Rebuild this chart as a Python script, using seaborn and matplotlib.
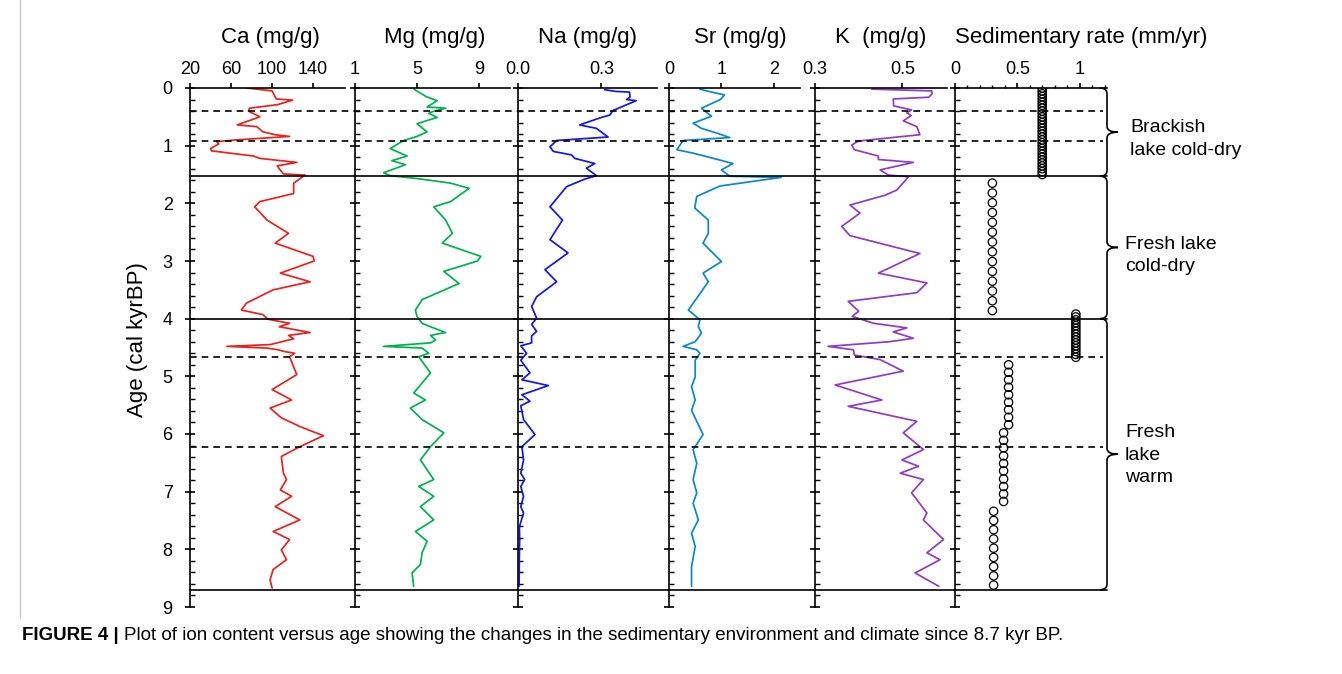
import numpy as np
import matplotlib
matplotlib.use("Agg")
import matplotlib.pyplot as plt
import seaborn as sns
from matplotlib.lines import Line2D
from matplotlib.path import Path
from matplotlib.patches import PathPatch
from matplotlib import transforms
from matplotlib import font_manager

# ---------------- data ----------------
ca_age = [0.0, 0.05, 0.19, 0.21, 0.29, 0.35, 0.40, 0.50, 0.64, 0.67,
          0.76, 0.81, 0.84, 0.90, 0.93, 0.97, 1.05, 1.09, 1.18, 1.22,
          1.29, 1.35, 1.40, 1.49, 1.51, 1.65, 1.83, 1.97, 2.06, 2.29,
          2.52, 2.69, 2.92, 3.0, 3.21, 3.36, 3.50, 3.73, 3.85, 3.93,
          4.01, 4.08, 4.14, 4.24, 4.29, 4.35, 4.45, 4.48, 4.51, 4.54,
          4.57, 4.60, 4.66, 4.97, 5.23, 5.41, 5.55, 5.72, 5.87, 6.03,
          6.22, 6.39, 6.68, 6.79, 6.97, 7.08, 7.26, 7.49, 7.69, 7.83,
          8.01, 8.18, 8.35, 8.53, 8.67]
ca_val = [75, 100, 104, 120, 105, 78, 77, 88, 66, 85,
          91, 103, 117, 65, 46, 48, 40, 41, 82, 88,
          124, 105, 107, 111, 132, 121, 121, 88, 83, 95,
          116, 103, 140, 141, 108, 137, 101, 75, 70, 91,
          96, 117, 107, 137, 116, 121, 98, 56, 95, 106,
          112, 122, 117, 124, 100, 119, 98, 109, 127, 150,
          127, 109, 111, 114, 108, 119, 103, 127, 101, 117,
          109, 114, 101, 98, 100]

mg_age = [0.02, 0.15, 0.22, 0.33, 0.35, 0.41, 0.44, 0.51, 0.62, 0.76,
          0.84, 0.91, 1.05, 1.18, 1.26, 1.33, 1.47, 1.52, 1.57, 1.65,
          1.74, 1.97, 2.06, 2.29, 2.52, 2.69, 2.92, 3.0, 3.18, 3.39,
          3.67, 3.85, 3.96, 4.08, 4.14, 4.24, 4.29, 4.37, 4.42, 4.48,
          4.51, 4.60, 4.66, 4.94, 5.29, 5.41, 5.55, 5.75, 5.98, 6.22,
          6.45, 6.79, 6.91, 7.08, 7.26, 7.49, 7.69, 7.86, 8.06, 8.26,
          8.41, 8.64]
mg_val = [4.8, 5.6, 6.3, 5.65, 6.85, 6.0, 5.76, 6.3, 5.0, 5.65,
          5.0, 4.14, 3.27, 4.36, 3.38, 4.25, 2.84, 3.27, 5.0, 7.17,
          8.36, 7.17, 6.08, 6.85, 7.28, 6.63, 9.12, 8.9, 6.73, 7.71,
          5.33, 4.9, 5.0, 5.33, 5.87, 6.84, 5.87, 6.2, 5.87, 2.84,
          5.33, 5.76, 5.11, 5.87, 4.79, 5.55, 4.57, 5.33, 6.73, 5.87,
          5.22, 6.08, 5.11, 6.08, 5.22, 6.08, 4.9, 5.65, 5.33, 5.22,
          4.68, 4.79]

na_age = [0.03, 0.06, 0.07, 0.16, 0.20, 0.22, 0.39, 0.47, 0.51, 0.64,
          0.70, 0.85, 0.91, 1.02, 1.10, 1.16, 1.22, 1.31, 1.39, 1.52,
          1.58, 1.71, 2.06, 2.29, 2.63, 2.86, 3.15, 3.36, 3.62, 3.79,
          3.99, 4.10, 4.22, 4.30, 4.42, 4.47, 4.60, 4.72, 4.94, 5.06,
          5.16, 5.32, 5.43, 5.51, 5.75, 6.01, 6.22, 6.45, 6.68, 6.79,
          6.91, 7.08, 7.26, 7.37, 7.61, 7.84, 8.07, 8.64]
na_val = [0.312, 0.354, 0.401, 0.403, 0.39, 0.425, 0.342, 0.33, 0.30, 0.222,
          0.282, 0.324, 0.139, 0.115, 0.127, 0.192, 0.204, 0.276, 0.246, 0.282,
          0.24, 0.175, 0.115, 0.16, 0.115, 0.18, 0.097, 0.139, 0.067, 0.049,
          0.067, 0.049, 0.067, 0.049, 0.049, 0.01, 0.031, 0.01, 0.043, 0.014,
          0.109, 0.014, 0.043, 0.01, 0.02, 0.061, 0.014, 0.02, 0.01, 0.024,
          0.01, 0.02, 0.01, 0.02, 0.005, 0.006, 0.005, 0.004]

sr_age = [0.02, 0.07, 0.12, 0.20, 0.35, 0.49, 0.61, 0.70, 0.79, 0.86,
          0.91, 1.07, 1.13, 1.19, 1.31, 1.42, 1.53, 1.55, 1.70, 1.88,
          2.08, 2.29, 2.52, 2.69, 3.01, 3.21, 3.36, 3.85, 4.02, 4.14,
          4.25, 4.40, 4.48, 4.54, 4.60, 4.72, 5.01, 5.18, 5.41, 5.59,
          6.01, 6.27, 6.51, 6.79, 7.02, 7.20, 7.49, 7.72, 7.95, 8.30,
          8.64]
sr_val = [0.59, 0.81, 1.06, 0.98, 0.62, 0.81, 0.46, 0.62, 0.94, 1.16,
          0.27, 0.15, 0.46, 0.72, 1.22, 1.0, 1.16, 2.14, 0.97, 0.53,
          0.49, 0.75, 0.75, 0.65, 1.0, 0.65, 0.75, 0.37, 0.59, 0.56,
          0.62, 0.50, 0.27, 0.53, 0.59, 0.50, 0.50, 0.43, 0.50, 0.43,
          0.65, 0.46, 0.53, 0.46, 0.53, 0.46, 0.56, 0.43, 0.50, 0.43,
          0.43]

k_age = [0.02, 0.05, 0.10, 0.16, 0.19, 0.31, 0.38, 0.43, 0.48, 0.57,
         0.67, 0.81, 0.92, 0.99, 1.07, 1.18, 1.24, 1.29, 1.42, 1.51,
         1.54, 1.77, 1.86, 2.03, 2.17, 2.40, 2.56, 2.87, 3.21, 3.38,
         3.55, 3.70, 3.87, 3.96, 4.08, 4.16, 4.23, 4.34, 4.40, 4.48,
         4.54, 4.63, 4.71, 4.91, 5.15, 5.41, 5.52, 5.78, 5.98, 6.27,
         6.45, 6.56, 6.68, 6.79, 7.02, 7.37, 7.49, 7.83, 8.06, 8.18,
         8.41, 8.64]
k_val = [0.430, 0.567, 0.568, 0.56, 0.479, 0.48, 0.521, 0.51, 0.52, 0.502,
         0.533, 0.54, 0.399, 0.384, 0.39, 0.445, 0.445, 0.525, 0.449, 0.468,
         0.514, 0.487, 0.46, 0.38, 0.403, 0.361, 0.38, 0.54, 0.445, 0.556,
         0.533, 0.376, 0.40, 0.385, 0.434, 0.51, 0.479, 0.525, 0.47, 0.33,
         0.388, 0.39, 0.449, 0.502, 0.346, 0.453, 0.376, 0.533, 0.502, 0.548,
         0.499, 0.537, 0.495, 0.548, 0.521, 0.556, 0.548, 0.594, 0.556, 0.586,
         0.529, 0.583]

sed_age = [0.00, 0.05, 0.10, 0.15, 0.20, 0.25, 0.30, 0.35, 0.40, 0.45,
           0.50, 0.55, 0.60, 0.65, 0.70, 0.75, 0.80, 0.85, 0.90, 0.95,
           1.00, 1.05, 1.10, 1.15, 1.20, 1.25, 1.30, 1.35, 1.40, 1.45, 1.50,
           1.65, 1.82, 1.99, 2.16, 2.33, 2.50, 2.67, 2.84, 3.01, 3.18,
           3.35, 3.52, 3.69, 3.86,
           3.92, 3.97, 4.02, 4.07, 4.12, 4.17, 4.22, 4.27, 4.32, 4.37,
           4.42, 4.47, 4.52, 4.57, 4.62, 4.67,
           4.80, 4.93, 5.06, 5.19, 5.32, 5.45, 5.58, 5.71, 5.84,
           5.98, 6.11, 6.24, 6.38, 6.51, 6.64, 6.78, 6.91, 7.04, 7.17,
           7.34, 7.50, 7.66, 7.82, 7.98, 8.14, 8.30, 8.46, 8.62]
sed_rate = [0.70, 0.70, 0.70, 0.70, 0.70, 0.70, 0.70, 0.70, 0.70, 0.70,
            0.70, 0.70, 0.70, 0.70, 0.70, 0.70, 0.70, 0.70, 0.70, 0.70,
            0.70, 0.70, 0.70, 0.70, 0.70, 0.70, 0.70, 0.70, 0.70, 0.70, 0.70,
            0.30, 0.30, 0.30, 0.30, 0.30, 0.30, 0.30, 0.30, 0.30, 0.30,
            0.30, 0.30, 0.30, 0.30,
            0.97, 0.97, 0.97, 0.97, 0.97, 0.97, 0.97, 0.97, 0.97, 0.97,
            0.97, 0.97, 0.97, 0.97, 0.97, 0.97,
            0.43, 0.43, 0.43, 0.43, 0.43, 0.43, 0.43, 0.43, 0.43,
            0.39, 0.39, 0.39, 0.39, 0.39, 0.39, 0.39, 0.39, 0.39, 0.39,
            0.31, 0.31, 0.31, 0.31, 0.31, 0.31, 0.31, 0.31, 0.31]

solid_ages = [1.53, 4.0, 8.7]
dashed_ages = [0.40, 0.92, 4.67, 6.23]

zones = [("Brackish\nlake cold-dry", 0.0, 1.53),
         ("Fresh lake\ncold-dry", 1.53, 4.0),
         ("Fresh\nlake\nwarm", 4.0, 8.7)]

titles = ["Ca (mg/g)", "Mg (mg/g)", "Na (mg/g)", "Sr (mg/g)", "K  (mg/g)",
          "Sedimentary rate (mm/yr)"]
xlims = [(20, 171), (1, 11), (0, 0.5), (0, 2.5), (0.3, 0.602), (0, 1.22)]
xticks = [[20, 60, 100, 140], [1, 5, 9], [0.0, 0.3], [0, 1, 2], [0.3, 0.5], [0, 0.5, 1]]
xticklabels = [["20", "60", "100", "140"], ["1", "5", "9"], ["0.0", "0.3"],
               ["0", "1", "2"], ["0.3", "0.5"], ["0", "0.5", "1"]]
colors = ["#e8231f", "#00b050", "#1414f0", "#0a86cf", "#8e3cc4"]

# ---------------- style ----------------
sns.set_style("white")
plt.rcParams['font.family'] = ['Liberation Sans', 'DejaVu Sans']
plt.rcParams['text.color'] = 'black'
plt.rcParams['axes.labelcolor'] = 'black'
plt.rcParams['xtick.color'] = 'black'
plt.rcParams['ytick.color'] = 'black'

W, H = 1342, 674
fig = plt.figure(figsize=(W / 100, H / 100), dpi=100)


def fx(px):
    return px / W


def fy(py):
    return 1 - py / H


top_px, bot_px = 88, 607
panels = [(190, 345), (355, 510), (518, 657), (669, 800), (815, 947), (955, 1107)]
title_x = [270, 435, 588, 740, 881, 955]

axes = []
for i, (l, r) in enumerate(panels):
    ax = fig.add_axes([fx(l), fy(bot_px), (r - l) / W, (bot_px - top_px) / H])
    ax.set_facecolor('none')
    axes.append(ax)

series = [(ca_val, ca_age), (mg_val, mg_age), (na_val, na_age),
          (sr_val, sr_age), (k_val, k_age)]
for i, (v, a) in enumerate(series):
    sns.lineplot(x=v, y=a, ax=axes[i], orient='y', sort=False, estimator=None,
                 color=colors[i], lw=1.25, solid_joinstyle='round')

sns.scatterplot(x=sed_rate, y=sed_age, ax=axes[5], marker='o', s=36,
                facecolors='none', edgecolor='black', linewidth=0.9, zorder=3)

for i, ax in enumerate(axes):
    ax.set_ylim(9, 0)
    ax.set_xlim(*xlims[i])
    ax.set_yticks(range(10))
    ax.set_yticks(np.arange(0, 9.01, 0.2), minor=True)
    ax.set_xticks(xticks[i])
    ax.set_xticklabels(xticklabels[i])
    ax.xaxis.tick_top()
    for s in ['right', 'bottom']:
        ax.spines[s].set_visible(False)
    for s in ['left', 'top']:
        ax.spines[s].set_visible(True)
        ax.spines[s].set_color('black')
        ax.spines[s].set_linewidth(1.2)
    ax.tick_params(axis='y', which='major', direction='inout', length=7, width=1.2,
                   color='black', labelcolor='black', labelsize=13, left=True,
                   right=False, labelleft=(i == 0), pad=9)
    ax.tick_params(axis='y', which='minor', direction='in', length=3.5, width=1.0,
                   color='black', left=True, right=False)
    ax.tick_params(axis='x', which='major', direction='out', length=3.5, width=1.2,
                   color='black', labelcolor='black', top=True, bottom=False,
                   labeltop=True, labelbottom=False, labelsize=13, pad=4)
    ax.tick_params(axis='x', which='minor', top=False, bottom=False)
    ax.set_xlabel('')
    ax.set_ylabel('')
    ax.grid(False)
    ha = 'left' if i == 5 else 'center'
    tx = (title_x[i] - panels[i][0]) / (panels[i][1] - panels[i][0])
    ax.text(tx, 1 + 51 / (bot_px - top_px), titles[i], transform=ax.transAxes,
            ha=ha, va='center', fontsize=16, color='black')

axes[5].set_xticks(np.arange(0, 1.21, 0.1), minor=True)
axes[5].tick_params(axis='x', which='minor', direction='out', length=2.5, width=1.0,
                    color='black', top=True, bottom=False)

axes[0].set_ylabel("Age (cal kyrBP)", fontsize=16, color='black')
axes[0].yaxis.set_label_coords((148 - 190) / 155, (bot_px - 340) / (bot_px - top_px))

# horizontal boundary lines across all panels
blend = transforms.blended_transform_factory(fig.transFigure, axes[0].transData)
for a in solid_ages:
    fig.add_artist(Line2D([fx(190), fx(1107)], [a, a], transform=blend,
                          color='black', lw=1.2, zorder=1))
for a in dashed_ages:
    fig.add_artist(Line2D([fx(190), fx(1103)], [a, a], transform=blend,
                          color='black', lw=1.2, linestyle=(0, (4, 3)), zorder=1))

# braces and zone labels
sax = axes[5]
btr = transforms.blended_transform_factory(sax.transAxes, sax.transData)
xa, xb, xt, r = 0.954, 1.0, 1.072, 0.10
text_x = [1130, 1125, 1125]
text_dy = [0.12, 0.14, 0.02]
for j, (lab, y0, y1) in enumerate(zones):
    ym = (y0 + y1) / 2
    verts = [(xa, y0), (xb, y0), (xb, y0 + r), (xb, ym - r), (xb, ym), (xt, ym),
             (xb, ym), (xb, ym + r), (xb, y1 - r), (xb, y1), (xa, y1)]
    codes = [Path.MOVETO, Path.CURVE3, Path.CURVE3, Path.LINETO, Path.CURVE3,
             Path.CURVE3, Path.CURVE3, Path.CURVE3, Path.LINETO, Path.CURVE3,
             Path.CURVE3]
    sax.add_patch(PathPatch(Path(verts, codes), transform=btr, fill=False,
                            edgecolor='black', lw=1.2, clip_on=False))
    sax.text((text_x[j] - 955) / 152, ym + text_dy[j], lab, transform=btr, ha='left',
             va='center', fontsize=14, linespacing=1.42, color='black')

# frame line of the figure panel
fig.add_artist(Line2D([fx(20), fx(20)], [fy(0), fy(618)], color='#c8c8c8', lw=1.0))

# caption
names = {f.name for f in font_manager.fontManager.ttflist}
cap_family = ['Liberation Sans Narrow'] if 'Liberation Sans Narrow' in names else ['Liberation Sans']
fig.canvas.draw()
rend = fig.canvas.get_renderer()
cap_bold = "FIGURE 4 |"
cap_rest = ("Plot of ion content versus age showing the changes in the sedimentary "
            "environment and climate since 8.7 kyr BP.")
fs = 12
t1 = fig.text(fx(22), fy(636), cap_bold, fontsize=fs, fontweight='bold',
              va='center', ha='left', family=cap_family, color='black')
t2 = fig.text(fx(22), fy(636), cap_rest, fontsize=fs, va='center', ha='left',
              family=cap_family, color='black')
w_total = t1.get_window_extent(rend).width + 5 + t2.get_window_extent(rend).width
fs2 = fs * (1042 / w_total)
t1.set_fontsize(fs2)
t2.set_fontsize(fs2)
b1 = t1.get_window_extent(rend)
t2.set_x((b1.x1 + 5) / W)

fig.savefig("out.png", dpi=100)
